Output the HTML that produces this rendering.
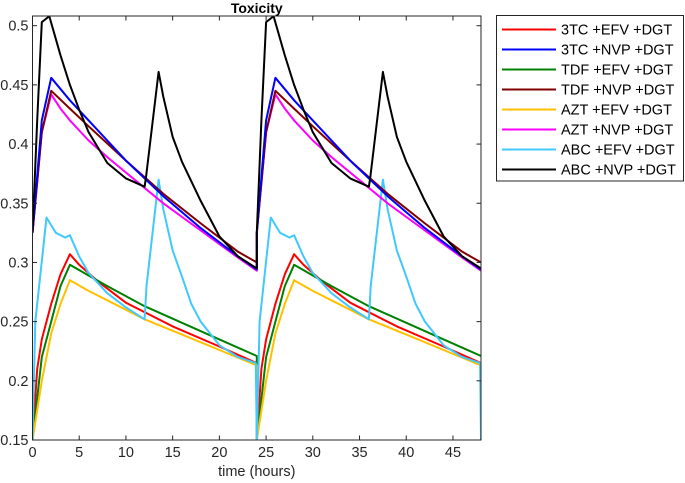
<!DOCTYPE html>
<html><head><meta charset="utf-8"><style>
body{margin:0;background:#fff;}
svg{display:block;font-family:"Liberation Sans",Arial,sans-serif;}
</style></head><body>
<svg id="chart" width="685" height="483"></svg>
<script>
const xTicks=[0,5,10,15,20,25,30,35,40,45];
const yTicks=[0.15,0.2,0.25,0.3,0.35,0.4,0.45,0.5];
const seriesNames=["3TC +EFV +DGT","3TC +NVP +DGT","TDF +EFV +DGT","TDF +NVP +DGT","AZT +EFV +DGT","AZT +NVP +DGT","ABC +EFV +DGT","ABC +NVP +DGT"];
const seriesColors=["#ff0000","#0000ff","#008000","#800000","#ffc000","#ff00ff","#40c8ff","#000000"];
const tRed=[0,0.5,1,2,3,4,5,7,10,15,20,24];
const vRed=[0.15,0.21,0.235,0.265,0.29,0.307,0.298,0.284,0.266,0.246,0.229,0.215];
const tBlue=[0,1,2,4,6,10,14,18,22,24];
const vBlue=[0.325,0.42,0.456,0.437,0.42,0.386,0.356,0.329,0.305,0.294];
const tGreen=[0,1,2,3,4,6,8,12,16,20,24];
const vGreen=[0.15,0.22,0.25,0.28,0.298,0.289,0.28,0.263,0.249,0.235,0.221];
const tBrown=[0,1,2,4,6,10,14,18,22,24];
const vBrown=[0.325,0.41,0.445,0.43,0.415,0.386,0.358,0.333,0.309,0.3];
const tYellow=[0,1,2,3,4,6,8,12,16,20,24];
const vYellow=[0.15,0.2,0.24,0.265,0.285,0.276,0.268,0.252,0.239,0.226,0.213];
const tMagenta=[0,1,2,3,4,6,8,10,14,18,22,24];
const vMagenta=[0.325,0.41,0.442,0.43,0.42,0.403,0.389,0.376,0.35,0.327,0.304,0.293];
const tCyan=[0,0.3,1.5,2.5,3.5,4,5,6,8,10,12,12.2,13.5,14,15,16,17,18,20,22,23.9,24];
const vCyan=[0.15,0.25,0.338,0.325,0.321,0.323,0.305,0.291,0.274,0.262,0.252,0.28,0.37,0.345,0.31,0.288,0.265,0.25,0.23,0.22,0.215,0.15];
const tBlack=[0,0.5,1,1.8,3,4,5,6,8,10,12,12.15,13.5,14,15,16,18,20,22,24];
const vBlack=[0.325,0.42,0.503,0.508,0.475,0.45,0.429,0.41,0.384,0.371,0.364,0.372,0.461,0.44,0.406,0.385,0.352,0.322,0.305,0.295];
const seriesT=[tRed,tBlue,tGreen,tBrown,tYellow,tMagenta,tCyan,tBlack];
const seriesV=[vRed,vBlue,vGreen,vBrown,vYellow,vMagenta,vCyan,vBlack];
const drawOrder=[0,2,4,6,5,3,1,7];

const NS="http://www.w3.org/2000/svg";
const svg=document.getElementById('chart');
const L=32.5,R=481,T=16,B=440;
const xMin=0,xMax=48,yMin=0.15,yMax=0.5;
const xs=v=>L+(v-xMin)/(xMax-xMin)*(R-L);
const ys=v=>440-(v-yMin)/(yMax-yMin)*(440-25.7);
function el(tag,attrs,parent){const e=document.createElementNS(NS,tag);for(const k in attrs)e.setAttribute(k,attrs[k]);(parent||svg).appendChild(e);return e;}

const clip=el('clipPath',{id:'pc'});el('rect',{x:L,y:T,width:R-L,height:B-T},clip);
const g=el('g',{'clip-path':'url(#pc)'});
drawOrder.forEach(i=>{
  let pts=[];
  for(let c=0;c<2;c++){seriesT[i].forEach((t,j)=>pts.push(xs(t+24*c).toFixed(1)+","+ys(seriesV[i][j]).toFixed(1)));}
  const p=el('polyline',{points:pts.join(" "),fill:"none",stroke:seriesColors[i],'stroke-width':2,'stroke-linejoin':'round'},g);
  
  
});
const box=el('rect',{x:L,y:T,width:R-L,height:B-T,fill:'none',stroke:'#262626','stroke-width':1});


xTicks.forEach(v=>{
  const x=xs(v);
  el('line',{x1:x,x2:x,y1:B,y2:B-4.5,stroke:'#262626'});
  el('line',{x1:x,x2:x,y1:T,y2:T+4.5,stroke:'#262626'});
  const t=el('text',{x:x,y:B+17,'text-anchor':'middle','font-size':14.5,fill:'#262626'});t.textContent=v;
  
  
});
yTicks.forEach(v=>{
  const y=ys(v);
  el('line',{x1:L,x2:L+4.5,y1:y,y2:y,stroke:'#262626'});
  el('line',{x1:R,x2:R-4.5,y1:y,y2:y,stroke:'#262626'});
  const t=el('text',{x:L-4,y:y+5,'text-anchor':'end','font-size':14.5,fill:'#262626'});t.textContent=String(v);
  
  
});
const xt=el('text',{x:(L+R)/2,y:476,'text-anchor':'middle','font-size':14.5,fill:'#262626'});xt.textContent="time (hours)";


const tt=el('text',{x:(L+R)/2,y:13,'text-anchor':'middle','font-size':14,'font-weight':'bold',fill:'#000'});tt.textContent="Toxicity";


const lg=el('g',{});


el('rect',{x:496.5,y:15.5,width:187,height:165.5,fill:'#fff',stroke:'#262626'},lg);
seriesNames.forEach((n,i)=>{
  const y=29.5+i*20;
  const en=el('g',{},lg);
  
  
  el('line',{x1:502,x2:556,y1:y,y2:y,stroke:seriesColors[i],'stroke-width':2},en);
  const t=el('text',{x:561,y:y+5,'font-size':14.5,fill:'#000'},en);t.textContent=n;
});
</script>
</body></html>
